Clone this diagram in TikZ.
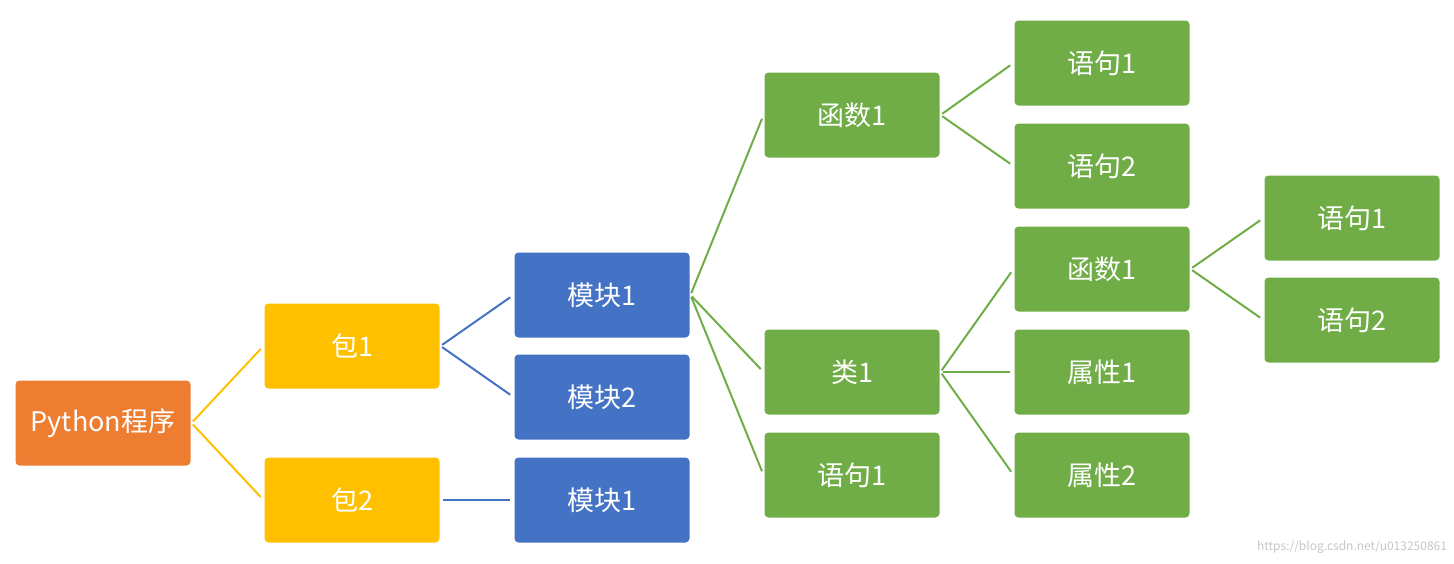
\documentclass[tikz,border=0pt]{standalone}
\usepackage{fontspec}
\setmainfont{Noto Sans CJK SC}
\usetikzlibrary{positioning}
\definecolor{orangebox}{RGB}{237,125,49}
\definecolor{goldbox}{RGB}{255,192,0}
\definecolor{bluebox}{RGB}{68,114,196}
\definecolor{greenbox}{RGB}{112,173,71}
\tikzset{box/.style={rectangle, rounded corners=4pt, minimum width=175pt, minimum height=85pt, inner sep=0pt, text=white, font=\fontsize{27}{30}\selectfont},
  orangenode/.style={box, fill=orangebox},
  goldnode/.style={box, fill=goldbox},
  bluenode/.style={box, fill=bluebox},
  greennode/.style={box, fill=greenbox}}
\begin{document}
\begin{tikzpicture}[x=1pt, y=-1pt, line width=2pt]
    \useasboundingbox (0,0) rectangle (1454,563);
    % Boxes
    \node[orangenode] (prog) at (103,423) {Python程序};
    \node[goldnode] (pkgA) at (352,346) {包1};
    \node[goldnode] (pkgB) at (352,500) {包2};
    \node[bluenode] (modA) at (602,295) {模块1};
    \node[bluenode] (modB) at (602,397) {模块2};
    \node[bluenode] (modC) at (602,500) {模块1};
    \node[greennode] (func) at (852,115) {函数1};
    \node[greennode] (cls) at (852,372) {类1};
    \node[greennode] (stmt) at (852,475) {语句1};
    \node[greennode] (funcA) at (1102,63) {语句1};
    \node[greennode] (funcB) at (1102,166) {语句2};
    \node[greennode] (clsfunc) at (1102,269) {函数1};
    \node[greennode] (attrA) at (1102,372) {属性1};
    \node[greennode] (attrB) at (1102,475) {属性2};
    \node[greennode] (cfA) at (1352,218) {语句1};
    \node[greennode] (cfB) at (1352,320) {语句2};
    % Connectors
    \foreach \a/\b/\c in {prog/pkgA/goldbox, prog/pkgB/goldbox,
        pkgA/modA/bluebox, pkgA/modB/bluebox, pkgB/modC/bluebox,
        modA/func/greenbox, modA/cls/greenbox, modA/stmt/greenbox,
        func/funcA/greenbox, func/funcB/greenbox,
        cls/clsfunc/greenbox, cls/attrA/greenbox, cls/attrB/greenbox,
        clsfunc/cfA/greenbox, clsfunc/cfB/greenbox} {
        \draw[\c, shorten <=2pt, shorten >=4pt] (\a.east) -- (\b.west);
    }
    % Watermark
    \node[anchor=south east, text=gray!45, font=\fontsize{12}{14}\selectfont, inner sep=2pt] (mark) at (1450,556) {https://blog.csdn.net/u013250861};
\end{tikzpicture}
\end{document}
